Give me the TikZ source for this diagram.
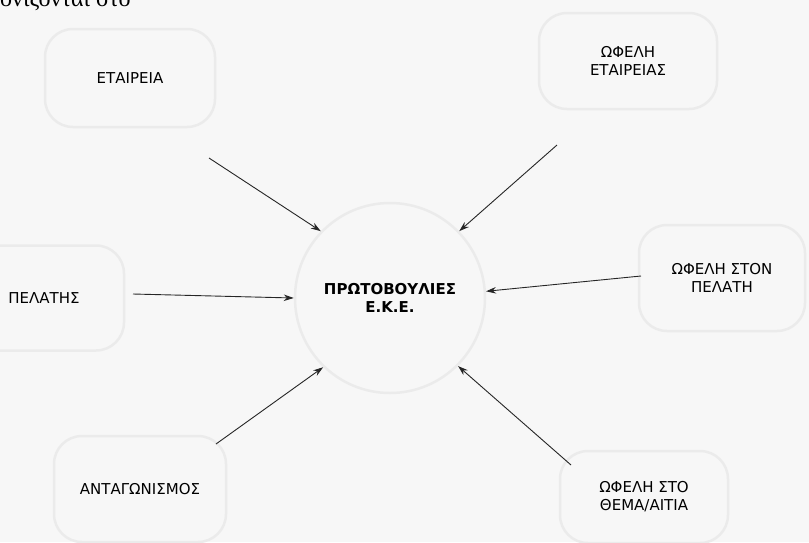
\documentclass[tikz,border=0pt]{standalone}
\usepackage{fontspec}
\setmainfont{DejaVu Sans}
\newfontfamily\bodyfont{Liberation Serif}
\usetikzlibrary{arrows.meta}
\begin{document}
\begin{tikzpicture}[x=1pt, y=-1pt, >={Stealth[length=10pt, width=6.5pt]},
  blob/.style={draw=black!8, line width=2.5pt, rounded corners=28pt, align=center,
    font=\fontsize{15}{18}\selectfont},
  flow/.style={->, draw=black!85, line width=0.9pt}]
  \fill[black!3] (0, 0) rectangle (809, 542);
  \useasboundingbox (0, 0) rectangle (809, 542);
  \node[anchor=base west, inner sep=0, font=\bodyfont\fontsize{24}{28}\selectfont] (intro) at (0, 6) {ονίζονται στο};
  \node[blob, circle, minimum size=190, font=\bfseries\fontsize{15}{18}\selectfont] (eke) at (390, 298) {ΠΡΩΤΟΒΟΥΛΙΕΣ\\Ε.Κ.Ε.};
  \node[blob, minimum width=170, minimum height=98] (etaireia) at (130, 78) {ΕΤΑΙΡΕΙΑ};
  \node[blob, minimum width=178, minimum height=96] (ofeletair) at (628, 61) {ΩΦΕΛΗ\\ΕΤΑΙΡΕΙΑΣ};
  \node[blob, minimum width=160, minimum height=105] (pelatis) at (44, 298) {ΠΕΛΑΤΗΣ};
  \node[blob, minimum width=166, minimum height=106] (ofelpelati) at (722, 278) {ΩΦΕΛΗ ΣΤΟΝ\\ΠΕΛΑΤΗ};
  \node[blob, minimum width=172, minimum height=106] (antag) at (140, 489) {ΑΝΤΑΓΩΝΙΣΜΟΣ};
  \node[blob, minimum width=168, minimum height=92] (ofelthema) at (644, 497) {ΩΦΕΛΗ ΣΤΟ\\ΘΕΜΑ/ΑΙΤΙΑ};
  \coordinate (etaireia-out) at (209, 158);
  \coordinate (ofeletair-out) at (557, 145);
  \coordinate (pelatis-out) at (133, 294);
  \coordinate (ofelpelati-out) at (641, 276);
  \coordinate (antag-out) at (216, 444);
  \coordinate (ofelthema-out) at (571, 465);
  \draw[flow] (etaireia-out) -- (eke.136);
  \draw[flow] (ofeletair-out) -- (eke.44);
  \draw[flow] (pelatis-out) -- (eke.180);
  \draw[flow] (ofelpelati-out) -- (eke.4);
  \draw[flow] (antag-out) -- (eke.226);
  \draw[flow] (ofelthema-out) -- (eke.-45);
\end{tikzpicture}
\end{document}
